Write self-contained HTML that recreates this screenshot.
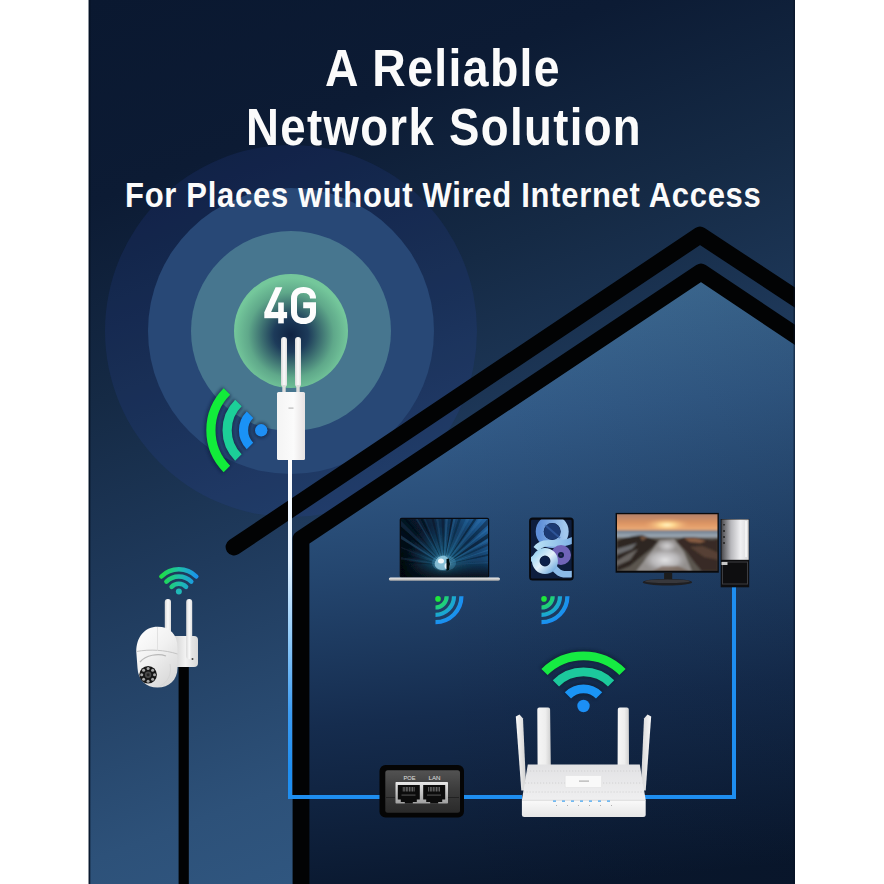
<!DOCTYPE html>
<html><head><meta charset="utf-8">
<style>
html,body{margin:0;padding:0;background:#fff;width:884px;height:884px;overflow:hidden}
svg{display:block}
text{font-family:"Liberation Sans",sans-serif;font-weight:bold}
</style></head><body>
<svg width="884" height="884" viewBox="0 0 884 884">
<defs>
  <clipPath id="panel"><rect x="88" y="0" width="707" height="884"/></clipPath>
  <linearGradient id="bgOut" x1="0" y1="0" x2="393.8" y2="1036.4" gradientUnits="userSpaceOnUse">
    <stop offset="0" stop-color="#0a1830"/>
    <stop offset="0.03" stop-color="#0a1830"/>
    <stop offset="0.2" stop-color="#0c1b34"/>
    <stop offset="0.37" stop-color="#152a45"/>
    <stop offset="0.54" stop-color="#1f3a5c"/>
    <stop offset="0.755" stop-color="#2d5179"/>
    <stop offset="1" stop-color="#35608c"/>
  </linearGradient>
  <linearGradient id="bgIn" x1="520" y1="280" x2="580" y2="884" gradientUnits="userSpaceOnUse">
    <stop offset="0" stop-color="#417099"/>
    <stop offset="0.22" stop-color="#335c89"/>
    <stop offset="0.45" stop-color="#24466f"/>
    <stop offset="0.7" stop-color="#152c4e"/>
    <stop offset="1" stop-color="#09172d"/>
  </linearGradient>
  <radialGradient id="c1" cx="291" cy="335" r="57" gradientUnits="userSpaceOnUse">
    <stop offset="0" stop-color="#0f2242"/>
    <stop offset="0.3" stop-color="#1d3b5a"/>
    <stop offset="0.75" stop-color="#5fa88a"/>
    <stop offset="1" stop-color="#74c79b"/>
  </radialGradient>
  <linearGradient id="cable1" x1="0" y1="460" x2="0" y2="797" gradientUnits="userSpaceOnUse">
    <stop offset="0" stop-color="#ffffff"/>
    <stop offset="0.3" stop-color="#e2f1ff"/>
    <stop offset="0.52" stop-color="#92cbf8"/>
    <stop offset="0.75" stop-color="#3c9cf2"/>
    <stop offset="0.92" stop-color="#1e8ef0"/>
    <stop offset="1" stop-color="#1e8ef0"/>
  </linearGradient>
  <linearGradient id="camwifi" x1="160" y1="0" x2="198" y2="0" gradientUnits="userSpaceOnUse">
    <stop offset="0" stop-color="#1ee040"/>
    <stop offset="0.5" stop-color="#1ec0a8"/>
    <stop offset="1" stop-color="#1a90f0"/>
  </linearGradient>
  <linearGradient id="qwifi" x1="0" y1="0" x2="1" y2="1">
    <stop offset="0" stop-color="#1ee040"/>
    <stop offset="0.45" stop-color="#1db8c0"/>
    <stop offset="1" stop-color="#1a8ff5"/>
  </linearGradient>
  <radialGradient id="ice" cx="444" cy="563" r="40" gradientUnits="userSpaceOnUse">
    <stop offset="0" stop-color="#7ccfe6" stop-opacity="0.8"/>
    <stop offset="0.3" stop-color="#2a8ab8" stop-opacity="0.5"/>
    <stop offset="1" stop-color="#1a5a90" stop-opacity="0"/>
  </radialGradient>
  <linearGradient id="iceBase" x1="405" y1="577" x2="488" y2="525" gradientUnits="userSpaceOnUse">
    <stop offset="0" stop-color="#02050a"/>
    <stop offset="0.4" stop-color="#07182a"/>
    <stop offset="0.75" stop-color="#133f68"/>
    <stop offset="1" stop-color="#2262a0"/>
  </linearGradient>
  <linearGradient id="iceBottom" x1="0" y1="0" x2="0" y2="1">
    <stop offset="0" stop-color="#03070c" stop-opacity="0"/>
    <stop offset="1" stop-color="#03070c" stop-opacity="0.75"/>
  </linearGradient>
  <linearGradient id="sky" x1="0" y1="513.6" x2="0" y2="531" gradientUnits="userSpaceOnUse">
    <stop offset="0" stop-color="#b0806a"/>
    <stop offset="0.55" stop-color="#dc9462"/>
    <stop offset="1" stop-color="#eeb07a"/>
  </linearGradient>
  <radialGradient id="sun" cx="0.5" cy="0.5" r="0.5">
    <stop offset="0" stop-color="#fff6c8"/>
    <stop offset="0.3" stop-color="#ffd890"/>
    <stop offset="1" stop-color="#e8a070" stop-opacity="0"/>
  </radialGradient>
  <radialGradient id="mist" cx="0.5" cy="0.5" r="0.5">
    <stop offset="0" stop-color="#e6e6e6"/>
    <stop offset="1" stop-color="#c0b8b0" stop-opacity="0"/>
  </radialGradient>
  <linearGradient id="tower" x1="0" y1="0" x2="1" y2="0">
    <stop offset="0" stop-color="#4a4a4e"/>
    <stop offset="0.35" stop-color="#b8b8bc"/>
    <stop offset="0.7" stop-color="#f0f0f2"/>
    <stop offset="1" stop-color="#d8d8da"/>
  </linearGradient>
  <linearGradient id="poe" x1="0" y1="0" x2="0" y2="1">
    <stop offset="0" stop-color="#525252"/><stop offset="0.45" stop-color="#3c3c3c"/><stop offset="1" stop-color="#2a2a2a"/>
  </linearGradient>
  <linearGradient id="antG" x1="0" y1="0" x2="1" y2="0">
    <stop offset="0" stop-color="#d8d8d8"/><stop offset="0.5" stop-color="#fafafa"/><stop offset="1" stop-color="#e0e0e0"/>
  </linearGradient>
  <linearGradient id="brk" x1="0" y1="0" x2="1" y2="0">
    <stop offset="0" stop-color="#cfcfcf"/><stop offset="0.5" stop-color="#f2f2f2"/><stop offset="1" stop-color="#d8d8d8"/>
  </linearGradient>
  <linearGradient id="camBody" x1="0" y1="0" x2="0.7" y2="1">
    <stop offset="0" stop-color="#ffffff"/><stop offset="0.5" stop-color="#f1f1f1"/><stop offset="1" stop-color="#d9d9d9"/>
  </linearGradient>
  <clipPath id="lapClip"><rect x="401" y="519" width="87" height="58"/></clipPath>
  <clipPath id="tabClip"><rect x="531" y="519.5" width="40.8" height="59.2" rx="1.5"/></clipPath>
  <clipPath id="monClip"><rect x="617" y="514.2" width="100.5" height="56.5"/></clipPath>
  <linearGradient id="lapBase" x1="0" y1="0" x2="0" y2="1">
    <stop offset="0" stop-color="#f2f2f2"/><stop offset="1" stop-color="#a8a8a8"/>
  </linearGradient>
  <linearGradient id="tabA" x1="0" y1="0" x2="1" y2="0">
    <stop offset="0" stop-color="#5f8fd8"/><stop offset="1" stop-color="#a2c8ee"/>
  </linearGradient>
  <linearGradient id="tabB" x1="0" y1="0" x2="1" y2="1">
    <stop offset="0" stop-color="#9fd4f0"/><stop offset="0.5" stop-color="#e4f2fa"/><stop offset="1" stop-color="#7ab0e0"/>
  </linearGradient>
  <radialGradient id="qw" cx="0" cy="0" r="28" gradientUnits="userSpaceOnUse">
    <stop offset="0" stop-color="#1ee83a"/><stop offset="0.4" stop-color="#1fd07a"/><stop offset="0.65" stop-color="#1ba8d0"/><stop offset="1" stop-color="#1a8cf5"/>
  </radialGradient>
  <linearGradient id="iceDark" x1="0" y1="0" x2="1" y2="0.3">
    <stop offset="0" stop-color="#050c14" stop-opacity="0.55"/><stop offset="0.5" stop-color="#050c14" stop-opacity="0"/><stop offset="1" stop-color="#050c14" stop-opacity="0.1"/>
  </linearGradient>
  <linearGradient id="tabC" x1="0" y1="0" x2="1" y2="0">
    <stop offset="0" stop-color="#b8e0f4"/><stop offset="1" stop-color="#7aaee4"/>
  </linearGradient>
  <linearGradient id="sea" x1="0" y1="0" x2="0" y2="1">
    <stop offset="0" stop-color="#6e7c8c"/><stop offset="1" stop-color="#a4b0bc"/>
  </linearGradient>
  <linearGradient id="mistG" x1="0" y1="0" x2="0" y2="1">
    <stop offset="0" stop-color="#b8bcc4"/><stop offset="0.5" stop-color="#dcdde0"/><stop offset="1" stop-color="#c4c2c2"/>
  </linearGradient>
  <linearGradient id="rw" x1="0" y1="651" x2="0" y2="704" gradientUnits="userSpaceOnUse">
    <stop offset="0" stop-color="#28e64c"/><stop offset="0.3" stop-color="#1fd478"/><stop offset="0.55" stop-color="#1cbcb0"/><stop offset="0.75" stop-color="#1c9ee8"/><stop offset="1" stop-color="#1a8ff5"/>
  </linearGradient>
  <linearGradient id="port" x1="0" y1="0" x2="0" y2="1">
    <stop offset="0" stop-color="#e8e8e8"/><stop offset="1" stop-color="#a0a0a0"/>
  </linearGradient>
  <linearGradient id="antR" x1="0" y1="0" x2="1" y2="0">
    <stop offset="0" stop-color="#fbfbfb"/><stop offset="1" stop-color="#cfcfcf"/>
  </linearGradient>
  <linearGradient id="antR2" x1="0" y1="0" x2="1" y2="0">
    <stop offset="0" stop-color="#d4d4d4"/><stop offset="1" stop-color="#f8f8f8"/>
  </linearGradient>
  <linearGradient id="antV" x1="0" y1="0" x2="1" y2="0">
    <stop offset="0" stop-color="#f6f6f6"/><stop offset="0.6" stop-color="#eeeeee"/><stop offset="1" stop-color="#d0d0d0"/>
  </linearGradient>
  <linearGradient id="rTop" x1="0" y1="0" x2="0" y2="1">
    <stop offset="0" stop-color="#e2e2e4"/><stop offset="1" stop-color="#efeff0"/>
  </linearGradient>
  <linearGradient id="rFront" x1="0" y1="0" x2="0" y2="1">
    <stop offset="0" stop-color="#fafafa"/><stop offset="1" stop-color="#e6e6e6"/>
  </linearGradient>
  <linearGradient id="bgInR" x1="430" y1="0" x2="796" y2="0" gradientUnits="userSpaceOnUse">
    <stop offset="0" stop-color="#050d1a" stop-opacity="0"/><stop offset="1" stop-color="#050d1a" stop-opacity="0.12"/>
  </linearGradient>
  <filter id="soft" x="-5%" y="-5%" width="110%" height="110%"><feGaussianBlur stdDeviation="0.9"/></filter>
  <filter id="soft2" x="-5%" y="-5%" width="110%" height="110%"><feGaussianBlur stdDeviation="0.5"/></filter>
  <linearGradient id="devBody" x1="0" y1="0" x2="1" y2="0">
    <stop offset="0" stop-color="#f4f4f4"/><stop offset="0.6" stop-color="#fbfbfb"/><stop offset="1" stop-color="#e6e2e2"/>
  </linearGradient>
  <filter id="halo" x="-20%" y="-20%" width="140%" height="140%"><feGaussianBlur stdDeviation="1.6"/></filter>
  <radialGradient id="mistR" cx="0.5" cy="0.5" r="0.5">
    <stop offset="0" stop-color="#e8e8ea" stop-opacity="0.95"/><stop offset="0.6" stop-color="#d0d0d4" stop-opacity="0.6"/><stop offset="1" stop-color="#b0b0b4" stop-opacity="0"/>
  </radialGradient>
</defs>

<g clip-path="url(#panel)">
<!-- panel -->
<rect x="88" y="0" width="707" height="884" fill="url(#bgOut)"/>

<!-- concentric circles -->
<circle cx="291" cy="331" r="186" fill="#3450c0" opacity="0.14"/>
<circle cx="291" cy="331" r="143" fill="#284876"/>
<circle cx="291" cy="331" r="100" fill="#47768f"/>
<circle cx="291" cy="331" r="57" fill="url(#c1)"/>

<!-- house interior -->
<polygon points="309,544 701,281 800,348 800,884 309,884" fill="url(#bgIn)"/>
<polygon points="309,544 701,281 800,348 800,884 309,884" fill="url(#bgInR)"/>

<!-- roof lines -->
<polyline points="234,547 700,235 810,307.5" fill="none" stroke="#020304" stroke-width="16.8" stroke-linecap="round" stroke-linejoin="round"/>
<polyline points="301,890 301,539 701,272 810,345" fill="none" stroke="#020304" stroke-width="16.8" stroke-linejoin="round"/>
<rect x="88" y="0" width="1" height="884" fill="#8a929c"/>
<rect x="89" y="0" width="1.3" height="884" fill="#051022" opacity="0.85"/>
<rect x="793.5" y="0" width="1.5" height="884" fill="#051022" opacity="0.5"/>
</g>

<!-- titles -->
<text x="325.0" y="85.8" font-size="51" fill="#fbfbfb" letter-spacing="1.5" textLength="236.0" lengthAdjust="spacingAndGlyphs">A Reliable</text>
<text x="246.0" y="144.6" font-size="51" fill="#fbfbfb" letter-spacing="1.5" textLength="396.0" lengthAdjust="spacingAndGlyphs">Network Solution</text>
<text x="125.0" y="207.2" font-size="35" fill="#fbfbfb" letter-spacing="0.8" textLength="636.5" lengthAdjust="spacingAndGlyphs">For Places without Wired Internet Access</text>

<!-- 4G -->
<g fill="#fdfdfd">
  <polygon points="275.6,287.2 282.3,287.2 271,312.2 264.3,312.2"/>
  <rect x="264.3" y="312" width="22.8" height="6.2"/>
  <rect x="278.2" y="302.5" width="5.6" height="20.9"/>
</g>
<path d="M313,298.5 C313,292.8 309,290 303.5,290 C298,290 294,292.8 294,298.5 L294,312.5 C294,318.2 298,321 303.5,321 C309,321 313,318.2 313,312.5 L313,305.3 L303.2,305.3" fill="none" stroke="#fdfdfd" stroke-width="6"/>

<!-- cables -->
<rect x="288" y="458" width="4" height="341" fill="url(#cable1)"/>
<line x1="290" y1="797" x2="382" y2="797" stroke="#1e8ef0" stroke-width="4"/>
<line x1="462" y1="797" x2="522" y2="797" stroke="#1e8ef0" stroke-width="4"/>
<polyline points="644,797 734,797 734,586" fill="none" stroke="#1e8ef0" stroke-width="4"/>

<!-- antenna device -->
<rect x="281" y="337" width="6" height="50" rx="3" fill="url(#antG)"/>
<rect x="295" y="337" width="6" height="50" rx="3" fill="url(#antG)"/>
<rect x="282.3" y="385" width="3.4" height="8" fill="#dcdcdc"/>
<rect x="296.3" y="385" width="3.4" height="8" fill="#dcdcdc"/>
<rect x="277" y="392" width="28" height="68" rx="1.5" fill="url(#devBody)"/>
<rect x="288.5" y="407.5" width="5" height="1.2" fill="#b8b8b8"/>

<!-- wifi left of device -->
<g fill="none" stroke="#0c1a38" stroke-width="13" opacity="0.55" filter="url(#halo)">
  <path d="M226.9,391.6 A54.8,54.8 0 0 0 226.9,469.0"/>
  <path d="M238.4,403.1 A38.4,38.4 0 0 0 238.4,457.5"/>
  <path d="M250.0,414.7 A22.0,22.0 0 0 0 250.0,445.9"/>
  <circle cx="261.2" cy="430.3" r="8" fill="#0c1a38" stroke="none"/>
</g>
<g fill="none" stroke-width="9.2">
  <path d="M226.9,391.6 A54.8,54.8 0 0 0 226.9,469.0" stroke="#12ec3a"/>
  <path d="M238.4,403.1 A38.4,38.4 0 0 0 238.4,457.5" stroke="#1ccf98"/>
  <path d="M250.0,414.7 A22.0,22.0 0 0 0 250.0,445.9" stroke="#1a92f6"/>
</g>
<circle cx="261.2" cy="430.3" r="6.2" fill="#1e8ff5"/>

<!-- camera -->
<rect x="178.6" y="660" width="10.2" height="230" fill="#020304"/>
<g fill="none" stroke="url(#camwifi)" stroke-width="4.5" stroke-linecap="round">
  <path d="M161.4,576.5 A24.7,24.7 0 0 1 196.3,576.5"/>
  <path d="M166.4,581.6 A17.6,17.6 0 0 1 191.3,581.6"/>
  <path d="M171.6,586.8 A10.2,10.2 0 0 1 186.1,586.8"/>
</g>
<circle cx="178.85" cy="591.4" r="3" fill="#20b8b8"/>
<rect x="164.8" y="599" width="6.2" height="40" rx="3" fill="url(#antG)"/>
<path d="M173,636 h21 q4,0 4,4 v23 q0,4 -4,4 h-21 z" fill="url(#brk)"/>
<rect x="186.2" y="599" width="6" height="60" rx="3" fill="url(#antG)"/>
<circle cx="192.5" cy="659" r="1" fill="#444"/>
<path d="M136.3,652 C136,637 145,626.7 157.5,626.7 C170,626.7 177.5,634 177.5,648 L177.5,668 C177.5,680 169,687.5 157.5,687.5 C146,687.5 138,680 137.5,668 Z" fill="url(#camBody)"/>
<path d="M136.5,651.5 C150,649 165,650 177.5,654" fill="none" stroke="#c4c4c4" stroke-width="1"/>
<path d="M140,662 C146,655 158,653 166,656" fill="none" stroke="#b8b8b8" stroke-width="1.2"/>
<path d="M160,686 C168,682 172,674 170,664" fill="none" stroke="#d6d6d6" stroke-width="1"/>
<line x1="157.5" y1="627" x2="157.5" y2="651" stroke="#dcdcdc" stroke-width="0.8"/>
<circle cx="148.1" cy="674.8" r="8.8" fill="#161616"/>
<circle cx="148.1" cy="674.8" r="3.2" fill="#4a4a4a"/>
<circle cx="148.1" cy="674.8" r="1.5" fill="#222"/>
<g fill="#a8a8a8">
  <circle cx="148.1" cy="668.4" r="1.5"/><circle cx="152.6" cy="670.3" r="1.5"/><circle cx="154.5" cy="674.8" r="1.5"/><circle cx="152.6" cy="679.3" r="1.5"/>
  <circle cx="148.1" cy="681.2" r="1.5"/><circle cx="143.6" cy="679.3" r="1.5"/><circle cx="141.7" cy="674.8" r="1.5"/><circle cx="143.6" cy="670.3" r="1.5"/>
</g>

<!-- laptop -->
<rect x="399.7" y="517.8" width="89.5" height="60" rx="2" fill="#080a10"/>
<g clip-path="url(#lapClip)"><g filter="url(#soft2)">
  <rect x="395" y="513" width="99" height="70" fill="url(#iceBase)"/>
  <rect x="401" y="519" width="87" height="58" fill="url(#ice)"/>
  <polygon points="444,565 349.1,559.8 349.4,556.5" fill="#03080f" opacity="0.45"/>
  <polygon points="444,565 349.7,553.1 350.5,548.1" fill="#4a9ad8" opacity="0.14"/>
  <polygon points="444,565 351.4,543.6 352.7,538.8" fill="#03080f" opacity="0.26"/>
  <polygon points="444,565 355.5,530.4 356.7,527.6" fill="#4a9ad8" opacity="0.10"/>
  <polygon points="444,565 358.7,523.2 361.8,517.5" fill="#03080f" opacity="0.29"/>
  <polygon points="444,565 362.8,515.7 365.8,511.0" fill="#4a9ad8" opacity="0.24"/>
  <polygon points="444,565 370.4,505.0 373.3,501.5" fill="#03080f" opacity="0.54"/>
  <polygon points="444,565 373.1,501.7 377.7,496.9" fill="#4a9ad8" opacity="0.13"/>
  <polygon points="444,565 381.9,493.1 384.3,491.1" fill="#03080f" opacity="0.34"/>
  <polygon points="444,565 394.1,484.2 397.1,482.4" fill="#4a9ad8" opacity="0.18"/>
  <polygon points="444,565 400.9,480.4 404.8,478.5" fill="#03080f" opacity="0.41"/>
  <polygon points="444,565 406.0,477.9 408.7,476.8" fill="#4a9ad8" opacity="0.12"/>
  <polygon points="444,565 419.2,473.3 423.7,472.2" fill="#03080f" opacity="0.34"/>
  <polygon points="444,565 427.8,471.4 432.5,470.7" fill="#4a9ad8" opacity="0.13"/>
  <polygon points="444,565 438.6,470.2 444.5,470.0" fill="#03080f" opacity="0.32"/>
  <polygon points="444,565 446.9,470.0 452.0,470.3" fill="#4a9ad8" opacity="0.23"/>
  <polygon points="444,565 458.4,471.1 462.4,471.8" fill="#03080f" opacity="0.54"/>
  <polygon points="444,565 462.7,471.9 467.2,472.9" fill="#4a9ad8" opacity="0.21"/>
  <polygon points="444,565 472.2,474.3 476.9,475.9" fill="#03080f" opacity="0.26"/>
  <polygon points="444,565 484.7,479.1 490.2,482.0" fill="#4a9ad8" opacity="0.18"/>
  <polygon points="444,565 495.6,485.2 499.0,487.5" fill="#03080f" opacity="0.46"/>
  <polygon points="444,565 501.1,489.1 505.3,492.4" fill="#4a9ad8" opacity="0.16"/>
  <polygon points="444,565 509.4,496.1 514.4,501.2" fill="#03080f" opacity="0.39"/>
  <polygon points="444,565 516.5,503.6 518.4,505.9" fill="#4a9ad8" opacity="0.20"/>
  <polygon points="444,565 521.1,509.5 525.1,515.5" fill="#03080f" opacity="0.50"/>
  <polygon points="444,565 525.5,516.3 527.7,520.1" fill="#4a9ad8" opacity="0.19"/>
  <polygon points="444,565 529.1,522.7 531.1,527.1" fill="#03080f" opacity="0.30"/>
  <polygon points="444,565 533.5,533.3 534.5,536.0" fill="#4a9ad8" opacity="0.21"/>
  <polygon points="444,565 536.2,542.2 537.1,545.9" fill="#03080f" opacity="0.37"/>
  <polygon points="444,565 538.8,558.3 538.9,561.3" fill="#4a9ad8" opacity="0.16"/>
  <rect x="401" y="560" width="87" height="17" fill="url(#iceBottom)"/>
  <ellipse cx="444" cy="563" rx="12" ry="8" fill="#4a9cc0" opacity="0.35"/>
  <path d="M435,562 C437,557 441,555 445,556 C449,558 451,561 450,566 C448,570 442,571 438,569 C435,567 434,565 435,562 Z" fill="#9fd4ea" opacity="0.75"/>
  <ellipse cx="441" cy="561" rx="3" ry="2.5" fill="#ffffff" opacity="0.9"/>
  <ellipse cx="447" cy="566" rx="2.5" ry="3" fill="#f0f8ff" opacity="0.9"/>
  <path d="M446.5,559 L449,558.5 L450,564 L449,570 L446.5,571 Z" fill="#050a10"/>
</g></g>
<rect x="388.8" y="577.4" width="111.2" height="3.3" rx="1.6" fill="url(#lapBase)"/>
<g transform="translate(435.5,596.3)">
<g fill="none" stroke="url(#qw)" stroke-width="4.2">
  <path d="M11.2,0 A11.2,11.2 0 0 1 0,11.2"/>
  <path d="M18.5,0 A18.5,18.5 0 0 1 0,18.5"/>
  <path d="M25.9,0 A25.9,25.9 0 0 1 0,25.9"/>
</g>
<circle cx="2.5" cy="2.6" r="2.8" fill="#1ee83a"/>
</g>

<!-- tablet -->
<rect x="529.1" y="517.6" width="44.6" height="63" rx="3.5" fill="#07090e"/>
<g clip-path="url(#tabClip)">
  <rect x="531" y="519.5" width="40.8" height="59.2" fill="#0e1e3e"/>
  <circle cx="552.2" cy="531.5" r="12.5" fill="none" stroke="url(#tabA)" stroke-width="8"/>
  <circle cx="552.2" cy="531.5" r="8.3" fill="#1c3a74"/>
  <path d="M545,525 L560,538" stroke="#3a66b0" stroke-width="2" opacity="0.6"/>
  <path d="M536,549 C546,537 558,549 575,539" fill="none" stroke="url(#tabC)" stroke-width="6.5"/>
  <circle cx="561" cy="555" r="6.5" fill="none" stroke="#7064b8" stroke-width="7"/>
  <circle cx="561" cy="555" r="1.2" fill="#302a60"/>
  <path d="M553,566 C560,577 566,574 575,574" fill="none" stroke="#8cbbe8" stroke-width="6.5"/>
  <path d="M531,561 C536,557 540,553 546,551" fill="none" stroke="#a8d6f2" stroke-width="6"/>
  <circle cx="545" cy="561" r="9.2" fill="none" stroke="url(#tabB)" stroke-width="7.5"/>
  <circle cx="545" cy="561" r="4.6" fill="#0c2048"/>
</g>
<g transform="translate(541.5,596.3)">
<g fill="none" stroke="url(#qw)" stroke-width="4.2">
  <path d="M11.2,0 A11.2,11.2 0 0 1 0,11.2"/>
  <path d="M18.5,0 A18.5,18.5 0 0 1 0,18.5"/>
  <path d="M25.9,0 A25.9,25.9 0 0 1 0,25.9"/>
</g>
<circle cx="2.5" cy="2.6" r="2.8" fill="#1ee83a"/>
</g>

<!-- monitor -->
<rect x="615.6" y="512.9" width="103.2" height="59.8" fill="#0a0a0c"/>
<g clip-path="url(#monClip)"><g filter="url(#soft)">
  <rect x="610" y="508" width="115" height="70" fill="#5c5650"/>
  <rect x="610" y="508" width="115" height="22.6" fill="url(#sky)"/>
  <ellipse cx="667" cy="525" rx="24" ry="7" fill="url(#sun)"/>
  <rect x="610" y="530.4" width="115" height="7" fill="url(#sea)"/>
  <path d="M616.5,541 L624,538 L634,536 L642,535 L650,538 L658,541 L652,548 L642,556 L630,566 L616.5,571.5 Z" fill="#2f2824"/>
  <path d="M616.5,549 L627,546 L637,543 L632,549 L616.5,555 Z" fill="#9aa2aa" opacity="0.55"/>
  <path d="M616.5,561 L628,554 L638,549 L630,560 L616.5,566 Z" fill="#b0acaa" opacity="0.45"/>
  <path d="M640,536 L648,537 L642,541 Z" fill="#a07050" opacity="0.6"/>
  <path d="M676,541 L684,537 L694,537 L704,539 L712,540 L718.5,539 L718.5,571.5 L702,571.5 L694,562 L686,551 Z" fill="#382b25"/>
  <path d="M684,538 L696,538 L706,541 L700,543 L690,542 Z" fill="#a87250" opacity="0.7"/>
  <path d="M690,547 L702,546 L712,550 L718.5,553 L718.5,560 L704,557 Z" fill="#6b5040" opacity="0.6"/>
  <path d="M660,540 L674,539 L684,552 L692,571.5 L636,571.5 L648,556 Z" fill="#b8b6b6" opacity="0.6"/>
  <ellipse cx="665" cy="560" rx="22" ry="12" fill="url(#mistR)"/>
  <ellipse cx="667" cy="546" rx="10" ry="6" fill="url(#mistR)" opacity="0.8"/>
  <path d="M652,571.5 L662,566 L678,566 L690,571.5 Z" fill="#6a5040" opacity="0.55"/>
</g></g>
<rect x="664.1" y="572.7" width="8.1" height="7" fill="#1c1c1c"/>
<ellipse cx="667.4" cy="582.2" rx="24.7" ry="3.3" fill="#1f1f22"/>
<ellipse cx="667.4" cy="581.3" rx="22.5" ry="1.8" fill="#38383c"/>

<!-- pc tower -->
<rect x="720.7" y="519" width="28.5" height="68.3" fill="#0e0e10"/>
<rect x="721.5" y="519.5" width="27.2" height="40.3" fill="url(#tower)"/>
<rect x="745" y="521" width="2" height="36" fill="#f4f4f4"/>
<g fill="#333"><rect x="723" y="524" width="2" height="1.5"/><rect x="723" y="530" width="2" height="2"/><rect x="723" y="536" width="2" height="2"/><rect x="723" y="542" width="2" height="2"/></g>
<rect x="722.5" y="562" width="25" height="22" fill="none" stroke="#3c3c40" stroke-width="1"/>
<rect x="721.5" y="562" width="6" height="3" fill="#c8c8c8"/>

<!-- poe injector -->
<rect x="379.5" y="765" width="84.5" height="52.5" rx="6" fill="#050505"/>
<rect x="385.3" y="770.3" width="74.7" height="42.4" rx="2.5" fill="url(#poe)"/>
<rect x="395.5" y="782" width="52.5" height="21.6" rx="0.8" fill="url(#port)"/>
<g fill="#0c0c0c">
  <path d="M397.8,785 h22 v14.5 h-3 v2.5 h-4 v1.5 h-8 v-1.5 h-4 v-2.5 h-3 z"/>
  <path d="M423.2,785 h22 v14.5 h-3 v2.5 h-4 v1.5 h-8 v-1.5 h-4 v-2.5 h-3 z"/>
</g>
<g fill="#7a7a7a"><rect x="402.8" y="787" width="0.8" height="4.5"/><rect x="404.4" y="787" width="0.8" height="4.5"/><rect x="405.9" y="787" width="0.8" height="4.5"/><rect x="407.4" y="787" width="0.8" height="4.5"/><rect x="409.0" y="787" width="0.8" height="4.5"/><rect x="410.6" y="787" width="0.8" height="4.5"/><rect x="412.1" y="787" width="0.8" height="4.5"/><rect x="413.7" y="787" width="0.8" height="4.5"/><rect x="428.3" y="787" width="0.8" height="4.5"/><rect x="429.9" y="787" width="0.8" height="4.5"/><rect x="431.4" y="787" width="0.8" height="4.5"/><rect x="432.9" y="787" width="0.8" height="4.5"/><rect x="434.5" y="787" width="0.8" height="4.5"/><rect x="436.1" y="787" width="0.8" height="4.5"/><rect x="437.6" y="787" width="0.8" height="4.5"/><rect x="439.2" y="787" width="0.8" height="4.5"/></g>
<g fill="#4a4a4a"><rect x="401.5" y="794.5" width="14" height="1.2"/><rect x="427" y="794.5" width="14" height="1.2"/></g>
<text x="403.5" y="779.8" font-size="6.2" fill="#e0e0e0" style="font-weight:normal" textLength="12" lengthAdjust="spacingAndGlyphs">POE</text>
<text x="428.5" y="779.8" font-size="6.2" fill="#e0e0e0" style="font-weight:normal" textLength="12" lengthAdjust="spacingAndGlyphs">LAN</text>
<line x1="386" y1="797.5" x2="395" y2="797.5" stroke="#222" stroke-width="1"/>
<line x1="448" y1="797.5" x2="459" y2="797.5" stroke="#222" stroke-width="1"/>

<!-- router wifi -->
<g fill="none" stroke="#0a1428" stroke-width="12.5" opacity="0.5" filter="url(#halo)">
  <path d="M622.5,672.0 A55.2,55.2 0 0 0 544.5,672.0"/>
  <path d="M611.1,683.4 A39.0,39.0 0 0 0 555.9,683.4"/>
  <path d="M599.1,695.4 A22.0,22.0 0 0 0 567.9,695.4"/>
</g>
<g fill="none" stroke-width="8.8">
  <path d="M622.5,672.0 A55.2,55.2 0 0 0 544.5,672.0" stroke="#16ea42"/>
  <path d="M611.1,683.4 A39.0,39.0 0 0 0 555.9,683.4" stroke="#1cc99c"/>
  <path d="M599.1,695.4 A22.0,22.0 0 0 0 567.9,695.4" stroke="#1a94f4"/>
</g>
<circle cx="583.5" cy="706" r="6.2" fill="#1c8ff5"/>

<!-- router -->
<polygon points="515.8,716.5 519.5,714.5 523,718.5 526.3,790.5 521.3,790.5" fill="url(#antR)"/>
<polygon points="651.2,716.5 647.5,714.5 644,718.5 640.7,790.5 645.7,790.5" fill="url(#antR2)"/>
<path d="M537.3,709.5 q0,-2 2,-2 h8.8 q2,0 2,2 L550.8,766 h-13.2 z" fill="url(#antV)"/>
<path d="M617.8,709.5 q0,-2 2,-2 h7 q2,0 2,2 L629,766 h-11.4 z" fill="url(#antV)"/>
<polygon points="527.8,764.5 639.8,764.5 645.7,800 521.9,800" fill="url(#rTop)"/>
<g stroke="#c8c8c8" stroke-width="0.7" stroke-dasharray="1.2 1.8">
  <line x1="527" y1="771" x2="640.5" y2="771"/>
  <line x1="525" y1="783" x2="642.5" y2="783"/>
  <line x1="523.5" y1="792" x2="644" y2="792"/>
</g>
<path d="M521.9,800 h123.8 v14.5 q0,2.5 -2.5,2.5 h-118.8 q-2.5,0 -2.5,-2.5 z" fill="url(#rFront)"/>
<line x1="522" y1="800.3" x2="645.5" y2="800.3" stroke="#d4d4d4" stroke-width="0.8"/>
<g fill="#3aa0f0">
  <rect x="553" y="800.5" width="3" height="1.2"/><rect x="562" y="800.5" width="3" height="1.2"/><rect x="571" y="800.5" width="3" height="1.2"/>
  <rect x="580" y="800.5" width="3" height="1.2"/><rect x="589" y="800.5" width="3" height="1.2"/><rect x="598" y="800.5" width="3" height="1.2"/><rect x="607" y="800.5" width="3" height="1.2"/>
</g>
<g fill="#b0b0b0">
  <rect x="556" y="805" width="1" height="1"/><rect x="567" y="805" width="1" height="1"/><rect x="578" y="805" width="1" height="1"/><rect x="589" y="805" width="1" height="1"/><rect x="600" y="805" width="1" height="1"/><rect x="611" y="805" width="1" height="1"/>
</g>
<rect x="565.2" y="775.5" width="36.4" height="12" rx="1" fill="#f9f9f9" stroke="#dedede" stroke-width="0.5"/>
<rect x="579" y="780.5" width="10" height="1.2" fill="#b0b0b0"/>
</svg>
</body></html>
